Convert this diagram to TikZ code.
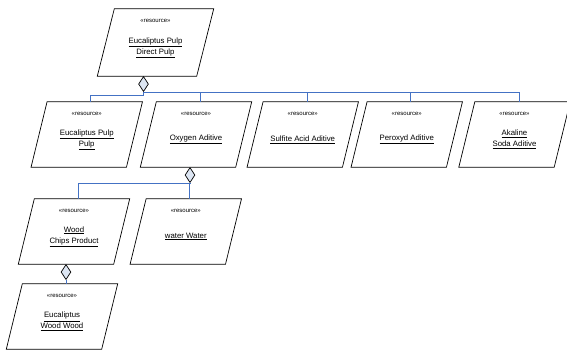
\documentclass[tikz,border=0pt]{standalone}
\usepackage{fontspec}
\setmainfont{Liberation Sans}
\usepackage{tikz}
\usetikzlibrary{shapes.geometric}
\definecolor{linkblue}{RGB}{68,114,196}
\definecolor{aggfill}{RGB}{221,230,243}

\begin{document}
\begin{tikzpicture}[x=1pt, y=-1pt,
  res/.style={rectangle, minimum width=95pt, minimum height=65pt, inner sep=0pt},
  stereo/.style={font=\fontsize{6}{7}\selectfont, inner sep=0pt},
  rname/.style={font=\fontsize{7.8}{11}\selectfont, align=center, inner sep=0pt},
  agg/.style={draw, line width=0.7pt, diamond, fill=aggfill, minimum width=10pt,
              minimum height=15pt, inner sep=0pt, anchor=north},
  link/.style={draw=linkblue, line width=0.8pt}]

\useasboundingbox (0,0) rectangle (567,349);

\node[res, minimum width=99pt, minimum height=67pt] (dpulp) at (155.5,42.5) {};
\node[stereo] (dpulp-st) at ([yshift=-12pt]dpulp.north) {«resource»};
\node[rname] (dpulp-txt) at ([yshift=-5.5pt]dpulp.center) {\underline{Eucaliptus Pulp}\\\underline{Direct Pulp}};

\node[res] (pulp) at (86.75,134.5) {};
\node[stereo] (pulp-st) at ([yshift=-12pt]pulp.north) {«resource»};
\node[rname] (pulp-txt) at ([yshift=-5pt]pulp.center) {\underline{Eucaliptus Pulp}\\\underline{Pulp}};

\node[res] (oxygen) at (196,134.5) {};
\node[stereo] (oxygen-st) at ([yshift=-12pt]oxygen.north) {«resource»};
\node[rname] (oxygen-txt) at ([yshift=-5pt]oxygen.center) {\underline{Oxygen Aditive}};

\node[res] (sulfite) at (302.75,134.5) {};
\node[stereo] (sulfite-st) at ([yshift=-12pt]sulfite.north) {«resource»};
\node[rname] (sulfite-txt) at ([yshift=-5pt]sulfite.center) {\underline{Sulfite Acid Aditive}};

\node[res] (peroxyd) at (406.75,134.5) {};
\node[stereo] (peroxyd-st) at ([yshift=-12pt]peroxyd.north) {«resource»};
\node[rname] (peroxyd-txt) at ([yshift=-5pt]peroxyd.center) {\underline{Peroxyd Aditive}};

\node[res] (soda) at (514.5,134.5) {};
\node[stereo] (soda-st) at ([yshift=-12pt]soda.north) {«resource»};
\node[rname] (soda-txt) at ([yshift=-5pt]soda.center) {\underline{Akaline}\\\underline{Soda Aditive}};

\node[res] (chips) at (74,231.5) {};
\node[stereo] (chips-st) at ([yshift=-12pt]chips.north) {«resource»};
\node[rname] (chips-txt) at ([yshift=-5pt]chips.center) {\underline{Wood}\\\underline{Chips Product}};

\node[res] (water) at (185.8,231.5) {};
\node[stereo] (water-st) at ([yshift=-12pt]water.north) {«resource»};
\node[rname] (water-txt) at ([yshift=-5pt]water.center) {\underline{water Water}};

\node[res] (wood) at (62,316.5) {};
\node[stereo] (wood-st) at ([yshift=-12pt]wood.north) {«resource»};
\node[rname] (wood-txt) at ([yshift=-5pt]wood.center) {\underline{Eucaliptus}\\\underline{Wood Wood}};

\foreach \b/\s in {dpulp/8.5,pulp/8,oxygen/8,sulfite/8,peroxyd/8,soda/8,chips/8,water/8,wood/8}
  \draw[line width=0.7pt] ([xshift=-\s pt]\b.south west) -- ([xshift=-\s pt]\b.south east)
    -- ([xshift=\s pt]\b.north east) -- ([xshift=\s pt]\b.north west) -- cycle;

\node[agg] (dpulp-agg) at ([xshift=-12pt]dpulp.south) {};
\node[agg] (oxygen-agg) at ([xshift=-6pt]oxygen.south) {};
\node[agg] (chips-agg) at ([xshift=-8pt]chips.south) {};

\draw[link] (dpulp-agg.south) -- ++(0,3) -| ([xshift=4pt]pulp.north);
\draw[link] (dpulp-agg.south) -| ([xshift=4pt]oxygen.north);
\draw[link] (dpulp-agg.south) -| ([xshift=5pt]sulfite.north);
\draw[link] (dpulp-agg.south) -| ([xshift=4pt]peroxyd.north);
\draw[link] (dpulp-agg.south) -| ([xshift=5pt]soda.north);

\draw[link] (oxygen-agg.south) -| ([xshift=4pt]chips.north);
\draw[link] (oxygen-agg.south) -| ([xshift=4pt]water.north);

\draw[link] (chips-agg.south) -- ([xshift=4pt]wood.north);
\end{tikzpicture}
\end{document}
